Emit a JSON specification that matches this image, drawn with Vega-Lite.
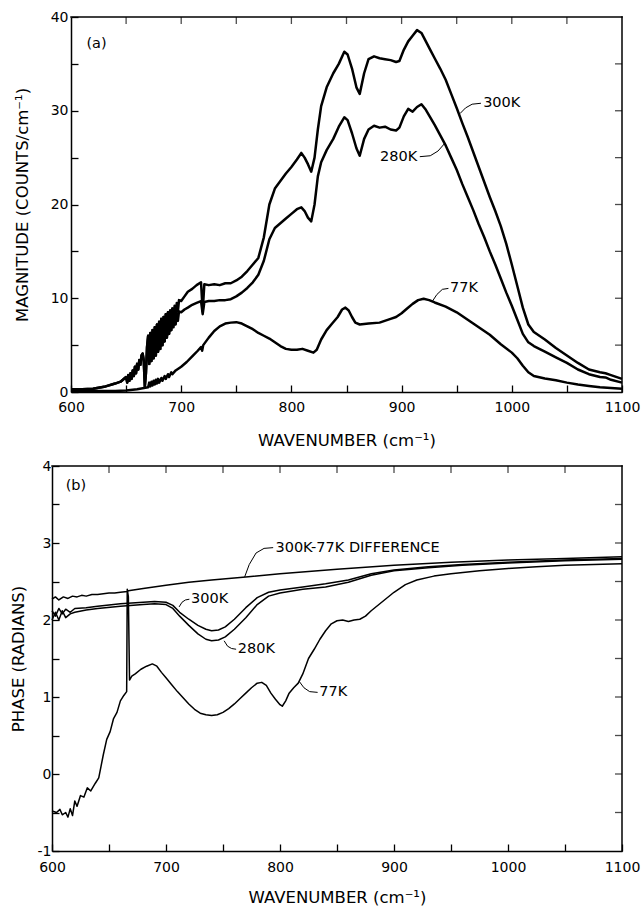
{
  "$schema": "https://vega.github.io/schema/vega-lite/v6.json",
  "padding": {"left": 10, "top": 10, "right": 5, "bottom": 0},
  "background": "white",
  "spacing": 10,
  "config": {
    "view": {"stroke": null},
    "font": "DejaVu Sans",
    "axis": {
      "domainColor": "black", "domainWidth": 1.5, "tickColor": "black", "tickWidth": 1.3, "tickSize": -7,
      "labelColor": "black", "labelFont": "DejaVu Sans", "labelFontSize": 14, "labelPadding": 8,
      "titleFont": "DejaVu Sans", "titleFontSize": 16.5, "titleFontWeight": "normal", "titleColor": "black",
      "grid": false, "labelFlush": false, "labelOverlap": false, "labelBound": false
    },
    "text": {"font": "DejaVu Sans", "fontSize": 14.5, "color": "black", "align": "left", "baseline": "middle"}
  },
  "datasets": {
    "magA": [
      {"s":"300K","x":600,"y":0.3},{"s":"300K","x":610,"y":0.3},{"s":"300K","x":620,"y":0.35},{"s":"300K","x":630,"y":0.55},{"s":"300K","x":640,"y":0.9},{"s":"300K","x":645,"y":1.1},{"s":"300K","x":650,"y":1.6},{"s":"300K","x":651,"y":1.0},{"s":"300K","x":652,"y":1.8},{"s":"300K","x":653,"y":1.2},{"s":"300K","x":654,"y":2.0},{"s":"300K","x":655,"y":1.4},{"s":"300K","x":656,"y":2.3},{"s":"300K","x":657,"y":1.7},{"s":"300K","x":658,"y":2.7},{"s":"300K","x":659,"y":2.0},{"s":"300K","x":660,"y":3.0},{"s":"300K","x":661,"y":2.4},{"s":"300K","x":662,"y":3.4},{"s":"300K","x":663,"y":2.9},{"s":"300K","x":664,"y":3.9},{"s":"300K","x":665,"y":4.1},{"s":"300K","x":666,"y":3.4},{"s":"300K","x":667,"y":0.6},{"s":"300K","x":668,"y":2.0},{"s":"300K","x":669,"y":4.8},
      {"s":"300K","x":670,"y":6.0},{"s":"300K","x":671,"y":3.0},{"s":"300K","x":672,"y":6.3},{"s":"300K","x":673,"y":3.3},{"s":"300K","x":674,"y":6.6},{"s":"300K","x":675,"y":3.6},{"s":"300K","x":676,"y":6.9},{"s":"300K","x":677,"y":3.9},{"s":"300K","x":678,"y":7.2},{"s":"300K","x":679,"y":4.3},{"s":"300K","x":680,"y":7.5},{"s":"300K","x":681,"y":4.6},{"s":"300K","x":682,"y":7.8},{"s":"300K","x":683,"y":5.0},{"s":"300K","x":684,"y":8.0},{"s":"300K","x":685,"y":5.4},{"s":"300K","x":686,"y":8.3},{"s":"300K","x":687,"y":5.8},{"s":"300K","x":688,"y":8.5},{"s":"300K","x":689,"y":6.2},{"s":"300K","x":690,"y":8.7},{"s":"300K","x":691,"y":6.6},{"s":"300K","x":692,"y":8.9},{"s":"300K","x":693,"y":7.4},{"s":"300K","x":694,"y":9.2},{"s":"300K","x":695,"y":8.0},{"s":"300K","x":696,"y":9.5},{"s":"300K","x":697,"y":8.6},{"s":"300K","x":698,"y":9.8},
      {"s":"300K","x":700,"y":9.7},{"s":"300K","x":703,"y":10.2},{"s":"300K","x":706,"y":10.7},{"s":"300K","x":710,"y":11.0},{"s":"300K","x":714,"y":11.4},{"s":"300K","x":718,"y":11.7},{"s":"300K","x":719.5,"y":8.6},{"s":"300K","x":721,"y":11.5},{"s":"300K","x":725,"y":11.4},{"s":"300K","x":730,"y":11.5},{"s":"300K","x":735,"y":11.4},{"s":"300K","x":740,"y":11.6},{"s":"300K","x":745,"y":11.6},{"s":"300K","x":750,"y":11.9},{"s":"300K","x":755,"y":12.3},{"s":"300K","x":760,"y":12.9},{"s":"300K","x":765,"y":13.6},{"s":"300K","x":770,"y":14.3},{"s":"300K","x":775,"y":16.5},{"s":"300K","x":780,"y":20.0},{"s":"300K","x":785,"y":21.7},{"s":"300K","x":790,"y":22.5},{"s":"300K","x":795,"y":23.3},{"s":"300K","x":800,"y":24.0},{"s":"300K","x":805,"y":24.8},{"s":"300K","x":809,"y":25.5},{"s":"300K","x":812,"y":25.0},{"s":"300K","x":815,"y":24.3},{"s":"300K","x":818,"y":23.5},{"s":"300K","x":821,"y":25.0},{"s":"300K","x":824,"y":28.0},{"s":"300K","x":827,"y":30.5},{"s":"300K","x":832,"y":32.5},{"s":"300K","x":838,"y":34.0},{"s":"300K","x":843,"y":35.0},{"s":"300K","x":848,"y":36.3},{"s":"300K","x":851,"y":36.0},{"s":"300K","x":855,"y":34.5},{"s":"300K","x":859,"y":32.5},{"s":"300K","x":862,"y":31.8},{"s":"300K","x":866,"y":34.0},{"s":"300K","x":870,"y":35.5},{"s":"300K","x":875,"y":35.8},{"s":"300K","x":880,"y":35.6},{"s":"300K","x":885,"y":35.5},{"s":"300K","x":890,"y":35.4},{"s":"300K","x":895,"y":35.2},{"s":"300K","x":898,"y":35.3},{"s":"300K","x":902,"y":36.5},{"s":"300K","x":906,"y":37.4},{"s":"300K","x":910,"y":38.0},{"s":"300K","x":914,"y":38.6},{"s":"300K","x":918,"y":38.3},{"s":"300K","x":922,"y":37.4},{"s":"300K","x":926,"y":36.5},{"s":"300K","x":930,"y":35.6},{"s":"300K","x":935,"y":34.5},{"s":"300K","x":940,"y":33.3},{"s":"300K","x":945,"y":31.8},{"s":"300K","x":950,"y":30.3},{"s":"300K","x":955,"y":28.7},{"s":"300K","x":960,"y":27.2},{"s":"300K","x":965,"y":25.6},{"s":"300K","x":970,"y":24.0},{"s":"300K","x":975,"y":22.4},{"s":"300K","x":980,"y":20.8},{"s":"300K","x":985,"y":19.3},{"s":"300K","x":990,"y":17.7},{"s":"300K","x":995,"y":15.8},{"s":"300K","x":1000,"y":13.6},{"s":"300K","x":1005,"y":11.3},{"s":"300K","x":1010,"y":9.0},{"s":"300K","x":1015,"y":7.2},{"s":"300K","x":1020,"y":6.4},{"s":"300K","x":1025,"y":6.0},{"s":"300K","x":1030,"y":5.6},{"s":"300K","x":1040,"y":4.7},{"s":"300K","x":1050,"y":3.9},{"s":"300K","x":1060,"y":3.1},{"s":"300K","x":1070,"y":2.4},{"s":"300K","x":1080,"y":2.1},{"s":"300K","x":1085,"y":2.0},{"s":"300K","x":1090,"y":1.8},{"s":"300K","x":1100,"y":1.4},
      {"s":"280K","x":600,"y":0.3},{"s":"280K","x":610,"y":0.3},{"s":"280K","x":620,"y":0.35},{"s":"280K","x":630,"y":0.55},{"s":"280K","x":640,"y":0.9},{"s":"280K","x":645,"y":1.1},{"s":"280K","x":650,"y":1.6},{"s":"280K","x":651,"y":1.0},{"s":"280K","x":652,"y":1.8},{"s":"280K","x":653,"y":1.2},{"s":"280K","x":654,"y":2.0},{"s":"280K","x":655,"y":1.4},{"s":"280K","x":656,"y":2.3},{"s":"280K","x":657,"y":1.7},{"s":"280K","x":658,"y":2.7},{"s":"280K","x":659,"y":2.0},{"s":"280K","x":660,"y":3.0},{"s":"280K","x":661,"y":2.4},{"s":"280K","x":662,"y":3.4},{"s":"280K","x":663,"y":2.9},{"s":"280K","x":664,"y":3.9},{"s":"280K","x":665,"y":4.1},{"s":"280K","x":666,"y":3.4},{"s":"280K","x":667,"y":0.6},{"s":"280K","x":668,"y":2.0},{"s":"280K","x":669,"y":4.8},
      {"s":"280K","x":670,"y":6.0},{"s":"280K","x":671,"y":3.0},{"s":"280K","x":672,"y":6.3},{"s":"280K","x":673,"y":3.3},{"s":"280K","x":674,"y":6.6},{"s":"280K","x":675,"y":3.6},{"s":"280K","x":676,"y":6.9},{"s":"280K","x":677,"y":3.9},{"s":"280K","x":678,"y":7.2},{"s":"280K","x":679,"y":4.3},{"s":"280K","x":680,"y":7.5},{"s":"280K","x":681,"y":4.6},{"s":"280K","x":682,"y":7.8},{"s":"280K","x":683,"y":5.0},{"s":"280K","x":684,"y":8.0},{"s":"280K","x":685,"y":5.4},{"s":"280K","x":686,"y":8.3},{"s":"280K","x":687,"y":5.8},{"s":"280K","x":688,"y":8.5},{"s":"280K","x":689,"y":6.2},{"s":"280K","x":690,"y":8.7},{"s":"280K","x":691,"y":6.6},{"s":"280K","x":692,"y":8.9},{"s":"280K","x":693,"y":6.9},{"s":"280K","x":694,"y":8.3},{"s":"280K","x":695,"y":7.2},{"s":"280K","x":696,"y":8.4},{"s":"280K","x":697,"y":7.6},{"s":"280K","x":698,"y":8.6},
      {"s":"280K","x":700,"y":8.5},{"s":"280K","x":703,"y":8.8},{"s":"280K","x":706,"y":9.0},{"s":"280K","x":710,"y":9.3},{"s":"280K","x":714,"y":9.5},{"s":"280K","x":718,"y":9.7},{"s":"280K","x":719.5,"y":8.3},{"s":"280K","x":721,"y":9.6},{"s":"280K","x":725,"y":9.7},{"s":"280K","x":730,"y":9.7},{"s":"280K","x":735,"y":9.8},{"s":"280K","x":740,"y":9.8},{"s":"280K","x":745,"y":9.9},{"s":"280K","x":750,"y":10.2},{"s":"280K","x":755,"y":10.6},{"s":"280K","x":760,"y":11.1},{"s":"280K","x":765,"y":11.7},{"s":"280K","x":770,"y":12.5},{"s":"280K","x":775,"y":14.0},{"s":"280K","x":780,"y":16.3},{"s":"280K","x":785,"y":17.5},{"s":"280K","x":790,"y":18.0},{"s":"280K","x":795,"y":18.5},{"s":"280K","x":800,"y":19.0},{"s":"280K","x":805,"y":19.5},{"s":"280K","x":809,"y":19.7},{"s":"280K","x":812,"y":19.3},{"s":"280K","x":815,"y":18.6},{"s":"280K","x":818,"y":18.2},{"s":"280K","x":821,"y":20.0},{"s":"280K","x":824,"y":23.0},{"s":"280K","x":827,"y":24.5},{"s":"280K","x":832,"y":25.8},{"s":"280K","x":838,"y":27.0},{"s":"280K","x":843,"y":28.3},{"s":"280K","x":848,"y":29.3},{"s":"280K","x":851,"y":29.0},{"s":"280K","x":855,"y":27.6},{"s":"280K","x":859,"y":26.0},{"s":"280K","x":862,"y":25.2},{"s":"280K","x":866,"y":27.0},{"s":"280K","x":870,"y":28.0},{"s":"280K","x":875,"y":28.4},{"s":"280K","x":880,"y":28.2},{"s":"280K","x":885,"y":28.3},{"s":"280K","x":890,"y":28.0},{"s":"280K","x":895,"y":27.9},{"s":"280K","x":898,"y":28.2},{"s":"280K","x":902,"y":29.4},{"s":"280K","x":906,"y":30.2},{"s":"280K","x":910,"y":29.9},{"s":"280K","x":914,"y":30.4},{"s":"280K","x":918,"y":30.7},{"s":"280K","x":922,"y":30.1},{"s":"280K","x":926,"y":29.3},{"s":"280K","x":930,"y":28.5},{"s":"280K","x":935,"y":27.4},{"s":"280K","x":940,"y":26.3},{"s":"280K","x":945,"y":25.0},{"s":"280K","x":950,"y":23.7},{"s":"280K","x":955,"y":22.2},{"s":"280K","x":960,"y":20.8},{"s":"280K","x":965,"y":19.4},{"s":"280K","x":970,"y":17.9},{"s":"280K","x":975,"y":16.5},{"s":"280K","x":980,"y":15.0},{"s":"280K","x":985,"y":13.6},{"s":"280K","x":990,"y":12.1},{"s":"280K","x":995,"y":10.6},{"s":"280K","x":1000,"y":9.2},{"s":"280K","x":1005,"y":7.7},{"s":"280K","x":1010,"y":6.2},{"s":"280K","x":1015,"y":5.3},{"s":"280K","x":1020,"y":4.9},{"s":"280K","x":1025,"y":4.6},{"s":"280K","x":1030,"y":4.3},{"s":"280K","x":1040,"y":3.7},{"s":"280K","x":1050,"y":3.1},{"s":"280K","x":1060,"y":2.4},{"s":"280K","x":1070,"y":1.9},{"s":"280K","x":1080,"y":1.6},{"s":"280K","x":1085,"y":1.55},{"s":"280K","x":1090,"y":1.3},{"s":"280K","x":1100,"y":1.0},
      {"s":"77K","x":600,"y":0.1},{"s":"77K","x":620,"y":0.1},{"s":"77K","x":640,"y":0.1},{"s":"77K","x":650,"y":0.15},{"s":"77K","x":660,"y":0.3},{"s":"77K","x":665,"y":0.4},{"s":"77K","x":670,"y":0.5},{"s":"77K","x":671,"y":1.0},{"s":"77K","x":672,"y":0.6},{"s":"77K","x":673,"y":1.1},{"s":"77K","x":674,"y":0.7},{"s":"77K","x":675,"y":1.2},{"s":"77K","x":676,"y":0.8},{"s":"77K","x":677,"y":1.3},{"s":"77K","x":678,"y":0.9},{"s":"77K","x":679,"y":1.4},{"s":"77K","x":680,"y":1.0},{"s":"77K","x":682,"y":1.5},{"s":"77K","x":683,"y":1.2},{"s":"77K","x":685,"y":1.7},{"s":"77K","x":686,"y":1.4},{"s":"77K","x":688,"y":1.9},{"s":"77K","x":689,"y":1.6},{"s":"77K","x":691,"y":2.1},{"s":"77K","x":692,"y":1.9},{"s":"77K","x":695,"y":2.3},{"s":"77K","x":700,"y":2.7},{"s":"77K","x":705,"y":3.2},{"s":"77K","x":710,"y":3.8},{"s":"77K","x":715,"y":4.4},{"s":"77K","x":718,"y":4.8},{"s":"77K","x":719,"y":4.4},{"s":"77K","x":720,"y":5.0},{"s":"77K","x":725,"y":5.8},{"s":"77K","x":730,"y":6.5},{"s":"77K","x":735,"y":7.0},{"s":"77K","x":740,"y":7.3},{"s":"77K","x":745,"y":7.4},{"s":"77K","x":750,"y":7.45},{"s":"77K","x":755,"y":7.3},{"s":"77K","x":760,"y":7.0},{"s":"77K","x":765,"y":6.7},{"s":"77K","x":770,"y":6.3},{"s":"77K","x":775,"y":6.0},{"s":"77K","x":780,"y":5.7},{"s":"77K","x":785,"y":5.3},{"s":"77K","x":790,"y":4.9},{"s":"77K","x":795,"y":4.6},{"s":"77K","x":800,"y":4.5},{"s":"77K","x":805,"y":4.5},{"s":"77K","x":810,"y":4.6},{"s":"77K","x":815,"y":4.4},{"s":"77K","x":820,"y":4.2},{"s":"77K","x":823,"y":4.5},{"s":"77K","x":827,"y":5.6},{"s":"77K","x":832,"y":6.6},{"s":"77K","x":837,"y":7.3},{"s":"77K","x":842,"y":8.0},{"s":"77K","x":846,"y":8.8},{"s":"77K","x":849,"y":9.0},{"s":"77K","x":852,"y":8.7},{"s":"77K","x":855,"y":8.0},{"s":"77K","x":858,"y":7.4},{"s":"77K","x":862,"y":7.2},{"s":"77K","x":870,"y":7.3},{"s":"77K","x":880,"y":7.4},{"s":"77K","x":890,"y":7.8},{"s":"77K","x":895,"y":8.0},{"s":"77K","x":900,"y":8.4},{"s":"77K","x":905,"y":8.9},{"s":"77K","x":910,"y":9.4},{"s":"77K","x":915,"y":9.8},{"s":"77K","x":920,"y":9.95},{"s":"77K","x":925,"y":9.8},{"s":"77K","x":930,"y":9.55},{"s":"77K","x":940,"y":9.1},{"s":"77K","x":950,"y":8.5},{"s":"77K","x":960,"y":7.7},{"s":"77K","x":970,"y":6.9},{"s":"77K","x":980,"y":6.1},{"s":"77K","x":990,"y":5.1},{"s":"77K","x":1000,"y":4.2},{"s":"77K","x":1005,"y":3.6},{"s":"77K","x":1010,"y":2.8},{"s":"77K","x":1015,"y":2.1},{"s":"77K","x":1020,"y":1.7},{"s":"77K","x":1030,"y":1.45},{"s":"77K","x":1040,"y":1.25},{"s":"77K","x":1050,"y":1.0},{"s":"77K","x":1060,"y":0.8},{"s":"77K","x":1070,"y":0.65},{"s":"77K","x":1080,"y":0.5},{"s":"77K","x":1090,"y":0.42},{"s":"77K","x":1100,"y":0.35}
    ],
    "phaseB": [
      {"s":"diff","x":600,"y":2.27},{"s":"diff","x":603,"y":2.3},{"s":"diff","x":606,"y":2.26},{"s":"diff","x":610,"y":2.3},{"s":"diff","x":614,"y":2.28},{"s":"diff","x":618,"y":2.31},{"s":"diff","x":622,"y":2.3},{"s":"diff","x":626,"y":2.32},{"s":"diff","x":630,"y":2.31},{"s":"diff","x":635,"y":2.33},{"s":"diff","x":640,"y":2.33},{"s":"diff","x":645,"y":2.34},{"s":"diff","x":650,"y":2.35},{"s":"diff","x":655,"y":2.35},{"s":"diff","x":660,"y":2.36},{"s":"diff","x":666,"y":2.37},{"s":"diff","x":667,"y":2.38},{"s":"diff","x":680,"y":2.41},{"s":"diff","x":700,"y":2.45},{"s":"diff","x":720,"y":2.49},{"s":"diff","x":740,"y":2.52},{"s":"diff","x":770,"y":2.56},{"s":"diff","x":800,"y":2.6},{"s":"diff","x":850,"y":2.66},{"s":"diff","x":900,"y":2.71},{"s":"diff","x":950,"y":2.75},{"s":"diff","x":1000,"y":2.78},{"s":"diff","x":1050,"y":2.8},{"s":"diff","x":1100,"y":2.82},
      {"s":"300K","x":600,"y":2.12},{"s":"300K","x":603,"y":2.05},{"s":"300K","x":606,"y":2.15},{"s":"300K","x":609,"y":2.08},{"s":"300K","x":612,"y":2.14},{"s":"300K","x":616,"y":2.1},{"s":"300K","x":620,"y":2.15},{"s":"300K","x":630,"y":2.16},{"s":"300K","x":640,"y":2.18},{"s":"300K","x":660,"y":2.21},{"s":"300K","x":680,"y":2.23},{"s":"300K","x":690,"y":2.24},{"s":"300K","x":700,"y":2.23},{"s":"300K","x":706,"y":2.19},{"s":"300K","x":712,"y":2.1},{"s":"300K","x":720,"y":2.01},{"s":"300K","x":728,"y":1.93},{"s":"300K","x":735,"y":1.88},{"s":"300K","x":740,"y":1.86},{"s":"300K","x":746,"y":1.87},{"s":"300K","x":752,"y":1.91},{"s":"300K","x":760,"y":2.01},{"s":"300K","x":770,"y":2.16},{"s":"300K","x":780,"y":2.29},{"s":"300K","x":790,"y":2.36},{"s":"300K","x":800,"y":2.39},{"s":"300K","x":820,"y":2.43},{"s":"300K","x":840,"y":2.47},{"s":"300K","x":860,"y":2.52},{"s":"300K","x":880,"y":2.6},{"s":"300K","x":900,"y":2.65},{"s":"300K","x":930,"y":2.69},{"s":"300K","x":960,"y":2.72},{"s":"300K","x":1000,"y":2.75},{"s":"300K","x":1050,"y":2.78},{"s":"300K","x":1100,"y":2.8},
      {"s":"280K","x":600,"y":2.0},{"s":"280K","x":603,"y":2.1},{"s":"280K","x":606,"y":2.0},{"s":"280K","x":609,"y":2.12},{"s":"280K","x":612,"y":2.03},{"s":"280K","x":616,"y":2.08},{"s":"280K","x":620,"y":2.1},{"s":"280K","x":630,"y":2.13},{"s":"280K","x":640,"y":2.15},{"s":"280K","x":660,"y":2.18},{"s":"280K","x":680,"y":2.2},{"s":"280K","x":690,"y":2.21},{"s":"280K","x":700,"y":2.2},{"s":"280K","x":706,"y":2.15},{"s":"280K","x":712,"y":2.05},{"s":"280K","x":720,"y":1.93},{"s":"280K","x":728,"y":1.82},{"s":"280K","x":735,"y":1.75},{"s":"280K","x":740,"y":1.73},{"s":"280K","x":746,"y":1.74},{"s":"280K","x":752,"y":1.78},{"s":"280K","x":760,"y":1.88},{"s":"280K","x":770,"y":2.03},{"s":"280K","x":780,"y":2.2},{"s":"280K","x":790,"y":2.31},{"s":"280K","x":800,"y":2.35},{"s":"280K","x":820,"y":2.4},{"s":"280K","x":840,"y":2.43},{"s":"280K","x":860,"y":2.49},{"s":"280K","x":880,"y":2.58},{"s":"280K","x":900,"y":2.64},{"s":"280K","x":930,"y":2.68},{"s":"280K","x":960,"y":2.71},{"s":"280K","x":1000,"y":2.74},{"s":"280K","x":1050,"y":2.77},{"s":"280K","x":1100,"y":2.79},
      {"s":"77K","x":600,"y":-0.48},{"s":"77K","x":604,"y":-0.5},{"s":"77K","x":607,"y":-0.46},{"s":"77K","x":609,"y":-0.53},{"s":"77K","x":612,"y":-0.5},{"s":"77K","x":614,"y":-0.56},{"s":"77K","x":616,"y":-0.45},{"s":"77K","x":618,"y":-0.54},{"s":"77K","x":620,"y":-0.35},{"s":"77K","x":622,"y":-0.42},{"s":"77K","x":625,"y":-0.28},{"s":"77K","x":628,"y":-0.3},{"s":"77K","x":631,"y":-0.18},{"s":"77K","x":634,"y":-0.22},{"s":"77K","x":638,"y":-0.12},{"s":"77K","x":641,"y":-0.05},{"s":"77K","x":643,"y":0.1},{"s":"77K","x":645,"y":0.25},{"s":"77K","x":648,"y":0.45},{"s":"77K","x":651,"y":0.55},{"s":"77K","x":654,"y":0.72},{"s":"77K","x":657,"y":0.8},{"s":"77K","x":660,"y":0.95},{"s":"77K","x":663,"y":1.02},{"s":"77K","x":665.5,"y":1.07},{"s":"77K","x":666,"y":2.4},{"s":"77K","x":667,"y":2.3},{"s":"77K","x":668,"y":1.22},{"s":"77K","x":670,"y":1.27},{"s":"77K","x":673,"y":1.3},{"s":"77K","x":678,"y":1.36},{"s":"77K","x":683,"y":1.4},{"s":"77K","x":688,"y":1.43},{"s":"77K","x":692,"y":1.4},{"s":"77K","x":696,"y":1.32},{"s":"77K","x":700,"y":1.25},{"s":"77K","x":705,"y":1.16},{"s":"77K","x":710,"y":1.07},{"s":"77K","x":715,"y":0.99},{"s":"77K","x":720,"y":0.91},{"s":"77K","x":725,"y":0.84},{"s":"77K","x":730,"y":0.79},{"s":"77K","x":735,"y":0.77},{"s":"77K","x":740,"y":0.76},{"s":"77K","x":745,"y":0.77},{"s":"77K","x":750,"y":0.8},{"s":"77K","x":755,"y":0.85},{"s":"77K","x":760,"y":0.91},{"s":"77K","x":765,"y":0.98},{"s":"77K","x":770,"y":1.05},{"s":"77K","x":775,"y":1.12},{"s":"77K","x":780,"y":1.18},{"s":"77K","x":784,"y":1.19},{"s":"77K","x":788,"y":1.15},{"s":"77K","x":792,"y":1.05},{"s":"77K","x":796,"y":0.97},{"s":"77K","x":800,"y":0.9},{"s":"77K","x":802,"y":0.88},{"s":"77K","x":805,"y":0.95},{"s":"77K","x":808,"y":1.05},{"s":"77K","x":812,"y":1.12},{"s":"77K","x":816,"y":1.18},{"s":"77K","x":820,"y":1.3},{"s":"77K","x":825,"y":1.5},{"s":"77K","x":830,"y":1.62},{"s":"77K","x":835,"y":1.75},{"s":"77K","x":840,"y":1.86},{"s":"77K","x":845,"y":1.95},{"s":"77K","x":850,"y":1.99},{"s":"77K","x":855,"y":2.0},{"s":"77K","x":860,"y":1.98},{"s":"77K","x":865,"y":2.0},{"s":"77K","x":870,"y":2.01},{"s":"77K","x":875,"y":2.05},{"s":"77K","x":880,"y":2.12},{"s":"77K","x":890,"y":2.24},{"s":"77K","x":900,"y":2.36},{"s":"77K","x":910,"y":2.46},{"s":"77K","x":920,"y":2.52},{"s":"77K","x":935,"y":2.57},{"s":"77K","x":950,"y":2.6},{"s":"77K","x":975,"y":2.64},{"s":"77K","x":1000,"y":2.67},{"s":"77K","x":1025,"y":2.69},{"s":"77K","x":1050,"y":2.71},{"s":"77K","x":1075,"y":2.72},{"s":"77K","x":1100,"y":2.73}
    ],
    "labA": [
      {"t":"(a)","x":614,"y":37.1},{"t":"300K","x":974,"y":30.8},{"t":"280K","x":880.5,"y":25.1},{"t":"77K","x":944,"y":11.1}
    ],
    "labB": [
      {"t":"(b)","x":612,"y":3.74},{"t":"300K-77K DIFFERENCE","x":796,"y":2.94},{"t":"300K","x":722,"y":2.27},{"t":"280K","x":763,"y":1.62},{"t":"77K","x":834.5,"y":1.06}
    ],
    "leadA": [
      {"id":"a","x":953,"y":29.7},{"id":"a","x":958,"y":30.3},{"id":"a","x":964,"y":30.7},{"id":"a","x":972,"y":30.8},
      {"id":"b","x":916.5,"y":25.1},{"id":"b","x":926,"y":25.2},{"id":"b","x":933,"y":25.7},{"id":"b","x":939,"y":26.5},
      {"id":"c","x":927.5,"y":9.6},{"id":"c","x":932,"y":10.4},{"id":"c","x":937,"y":10.95},{"id":"c","x":942.5,"y":11.05}
    ],
    "leadB": [
      {"id":"a","x":769,"y":2.56},{"id":"a","x":773,"y":2.72},{"id":"a","x":779,"y":2.87},{"id":"a","x":786,"y":2.93},{"id":"a","x":794,"y":2.94},
      {"id":"b","x":711.5,"y":2.17},{"id":"b","x":714,"y":2.23},{"id":"b","x":717,"y":2.26},{"id":"b","x":720.5,"y":2.27},
      {"id":"c","x":751,"y":1.73},{"id":"c","x":754,"y":1.66},{"id":"c","x":757.5,"y":1.63},{"id":"c","x":761.5,"y":1.62},
      {"id":"d","x":817,"y":1.2},{"id":"d","x":821,"y":1.12},{"id":"d","x":826,"y":1.07},{"id":"d","x":833,"y":1.06}
    ],
    "ticksX": [{"v":650},{"v":700},{"v":750},{"v":800},{"v":850},{"v":900},{"v":950},{"v":1000},{"v":1050}],
    "ticksYa": [{"v":5},{"v":10},{"v":15},{"v":20},{"v":25},{"v":30},{"v":35}],
    "ticksYb": [{"v":-0.5},{"v":0},{"v":0.5},{"v":1},{"v":1.5},{"v":2},{"v":2.5},{"v":3},{"v":3.5}]
  },
  "vconcat": [
    {
      "width": 570,
      "height": 375,
      "layer": [
        {
          "data": {"name": "magA"},
          "mark": {"type": "line", "color": "black", "strokeJoin": "round"},
          "encoding": {
            "x": {"field": "x", "type": "quantitative", "scale": {"domain": [600, 1100], "range": [19, 570], "nice": false, "zero": false},
                  "axis": {"orient": "bottom", "title": "WAVENUMBER (cm⁻¹)", "values": [600,650,700,750,800,850,900,950,1000,1050,1100], "labelExpr": "datum.value % 100 == 0 ? datum.label : ''", "format": "d", "labelPadding": 15, "titlePadding": 18}},
            "y": {"field": "y", "type": "quantitative", "scale": {"domain": [0, 40], "nice": false, "zero": false},
                  "axis": {"orient": "left", "offset": -19, "title": "MAGNITUDE (COUNTS/cm⁻¹)", "values": [0,5,10,15,20,25,30,35,40], "labelExpr": "datum.value % 10 == 0 ? datum.label : ''", "labelPadding": 10, "titlePadding": 20}},
            "detail": {"field": "s", "type": "nominal"},
            "strokeWidth": {"field": "s", "type": "nominal", "scale": {"domain": ["300K", "280K", "77K"], "range": [2.5, 2.5, 1.7]}, "legend": null}
          }
        },
        {
          "data": {"name": "leadA"},
          "mark": {"type": "line", "color": "black", "strokeWidth": 1},
          "encoding": {
            "x": {"field": "x", "type": "quantitative", "axis": null},
            "y": {"field": "y", "type": "quantitative", "axis": null},
            "detail": {"field": "id", "type": "nominal"}
          }
        },
        {
          "data": {"values": [{}]},
          "mark": {"type": "rule", "color": "black", "strokeWidth": 1.5, "strokeCap": "square"},
          "encoding": {
            "x": {"datum": 600, "type": "quantitative", "axis": null},
            "x2": {"datum": 1100},
            "y": {"datum": 40, "type": "quantitative", "axis": null}
          }
        },
        {
          "data": {"values": [{}]},
          "mark": {"type": "rule", "color": "black", "strokeWidth": 1.5, "strokeCap": "square"},
          "encoding": {
            "x": {"datum": 1100, "type": "quantitative", "axis": null},
            "y": {"datum": 0, "type": "quantitative", "axis": null},
            "y2": {"datum": 40}
          }
        },
        {
          "data": {"name": "ticksX"},
          "mark": {"type": "tick", "orient": "vertical", "color": "black", "size": 7, "thickness": 1.3, "yOffset": 3.5},
          "encoding": {
            "x": {"field": "v", "type": "quantitative", "axis": null},
            "y": {"datum": 40, "type": "quantitative", "axis": null}
          }
        },
        {
          "data": {"name": "ticksYa"},
          "mark": {"type": "tick", "orient": "horizontal", "color": "black", "size": 7, "thickness": 1.3, "xOffset": -3.5},
          "encoding": {
            "x": {"datum": 1100, "type": "quantitative", "axis": null},
            "y": {"field": "v", "type": "quantitative", "axis": null}
          }
        },
        {
          "data": {"name": "labA"},
          "mark": {"type": "text"},
          "encoding": {
            "x": {"field": "x", "type": "quantitative", "axis": null},
            "y": {"field": "y", "type": "quantitative", "axis": null},
            "text": {"field": "t", "type": "nominal"}
          }
        }
      ],
      "resolve": {"axis": {"x": "independent", "y": "independent"}}
    },
    {
      "width": 570,
      "height": 385,
      "layer": [
        {
          "data": {"name": "phaseB"},
          "mark": {"type": "line", "color": "black", "strokeWidth": 1.5, "strokeJoin": "round"},
          "encoding": {
            "x": {"field": "x", "type": "quantitative", "scale": {"domain": [600, 1100], "nice": false, "zero": false},
                  "axis": {"orient": "bottom", "title": "WAVENUMBER (cm⁻¹)", "values": [600,650,700,750,800,850,900,950,1000,1050,1100], "labelExpr": "datum.value % 100 == 0 ? datum.label : ''", "format": "d", "labelPadding": 16, "titlePadding": 15}},
            "y": {"field": "y", "type": "quantitative", "scale": {"domain": [-1, 4], "nice": false, "zero": false},
                  "axis": {"orient": "left", "title": "PHASE (RADIANS)", "values": [-1,-0.5,0,0.5,1,1.5,2,2.5,3,3.5,4], "labelExpr": "datum.value == -1 ? '-1' : (datum.value % 1 == 0 ? format(datum.value, 'd') : '')", "titlePadding": 11}},
            "detail": {"field": "s", "type": "nominal"}
          }
        },
        {
          "data": {"name": "leadB"},
          "mark": {"type": "line", "color": "black", "strokeWidth": 1},
          "encoding": {
            "x": {"field": "x", "type": "quantitative", "axis": null},
            "y": {"field": "y", "type": "quantitative", "axis": null},
            "detail": {"field": "id", "type": "nominal"}
          }
        },
        {
          "data": {"values": [{}]},
          "mark": {"type": "rule", "color": "black", "strokeWidth": 1.5, "strokeCap": "square"},
          "encoding": {
            "x": {"datum": 600, "type": "quantitative", "axis": null},
            "x2": {"datum": 1100},
            "y": {"datum": 4, "type": "quantitative", "axis": null}
          }
        },
        {
          "data": {"values": [{}]},
          "mark": {"type": "rule", "color": "black", "strokeWidth": 1.5, "strokeCap": "square"},
          "encoding": {
            "x": {"datum": 1100, "type": "quantitative", "axis": null},
            "y": {"datum": -1, "type": "quantitative", "axis": null},
            "y2": {"datum": 4}
          }
        },
        {
          "data": {"name": "ticksX"},
          "mark": {"type": "tick", "orient": "vertical", "color": "black", "size": 7, "thickness": 1.3, "yOffset": 3.5},
          "encoding": {
            "x": {"field": "v", "type": "quantitative", "axis": null},
            "y": {"datum": 4, "type": "quantitative", "axis": null}
          }
        },
        {
          "data": {"name": "ticksYb"},
          "mark": {"type": "tick", "orient": "horizontal", "color": "black", "size": 7, "thickness": 1.3, "xOffset": -3.5},
          "encoding": {
            "x": {"datum": 1100, "type": "quantitative", "axis": null},
            "y": {"field": "v", "type": "quantitative", "axis": null}
          }
        },
        {
          "data": {"name": "labB"},
          "mark": {"type": "text"},
          "encoding": {
            "x": {"field": "x", "type": "quantitative", "axis": null},
            "y": {"field": "y", "type": "quantitative", "axis": null},
            "text": {"field": "t", "type": "nominal"}
          }
        }
      ],
      "resolve": {"axis": {"x": "independent", "y": "independent"}}
    }
  ]
}
